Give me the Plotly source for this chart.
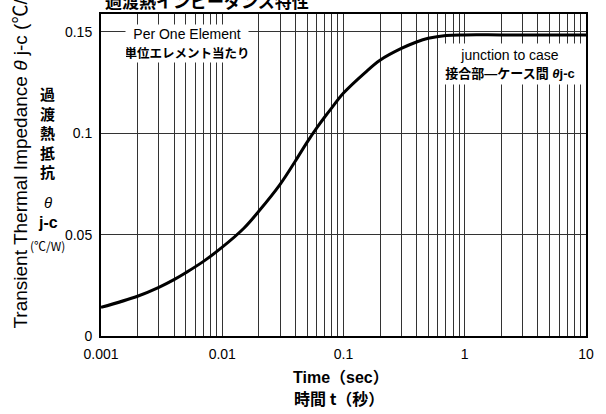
import plotly.graph_objects as go

# ---- data ----
time_s = [0.001, 0.002, 0.003, 0.004, 0.005, 0.007, 0.01, 0.015, 0.02, 0.03,
          0.04, 0.05, 0.06, 0.07, 0.08, 0.1, 0.15, 0.2, 0.3, 0.4, 0.5, 0.7,
          1, 2, 5, 10]
theta_jc = [0.0141, 0.0196, 0.0240, 0.0278, 0.0312, 0.0368, 0.0438, 0.0530,
            0.0615, 0.0748, 0.0862, 0.0955, 0.1025, 0.1080, 0.1125, 0.1198,
            0.1298, 0.1360, 0.1418, 0.1450, 0.1468, 0.1482, 0.1485, 0.1485,
            0.1485, 0.1485]

x_decades = [0.001, 0.01, 0.1, 1, 10]
x_decade_labels = ["0.001", "0.01", "0.1", "1", "10"]
y_ticks = [0, 0.05, 0.1, 0.15]
y_tick_labels = ["0", "0.05", "0.1", "0.15"]

title_text = "過渡熱インピーダンス特性"
y_title_en = "Transient Thermal Impedance <i>θ</i> j-c (℃/W)"
y_title_jp = "過<br>渡<br>熱<br>抵<br>抗"
x_title_en = "<b>Time（sec）</b>"
x_title_jp = "<b>時間 t（秒）</b>"
note1 = "Per One Element<br><b><span style='font-size:12.5px'>単位エレメント当たり</span></b>"
note2 = "junction to case<br><b><span style='font-size:13px'>接合部―ケース間 <i>θ</i>j-c</span></b>"

# all gridline positions on log axis (1..9 per decade)
x_tickvals, x_ticktext = [], []
for d, lab in zip(x_decades[:-1], x_decade_labels[:-1]):
    for k in range(1, 10):
        x_tickvals.append(d * k)
        x_ticktext.append(lab if k == 1 else "")
x_tickvals.append(x_decades[-1])
x_ticktext.append(x_decade_labels[-1])

# ---- layout geometry ----
FW, FH = 606, 414
L, R, T, B = 101, 20, 12, 78
W, H = FW - L - R, FH - T - B
BOTTOM = FH - B


def px(x):
    return (x - L) / W


def py(y):
    return (BOTTOM - y) / H


FONT = "Liberation Sans, Arial, Noto Sans CJK JP"
JFONT = "Noto Sans CJK JP, Liberation Sans"

fig = go.Figure()
fig.add_trace(go.Scatter(
    x=time_s, y=theta_jc, mode="lines",
    line=dict(color="black", width=3, shape="spline", smoothing=1.0),
    showlegend=False, hoverinfo="skip",
))

grid_col = "#333333"
fig.update_layout(
    width=FW, height=FH,
    margin=dict(l=L, r=R, t=T, b=B),
    paper_bgcolor="white", plot_bgcolor="white",
    font=dict(family=FONT, size=14, color="black"),
    xaxis=dict(
        type="log", range=[-3, 1],
        tickmode="array", tickvals=x_tickvals, ticktext=x_ticktext,
        showgrid=True, gridcolor=grid_col, gridwidth=1,
        showline=True, linecolor="black", linewidth=2, mirror=True,
        ticks="", ticklabelstandoff=4, zeroline=False,
        tickfont=dict(family=FONT, size=14, color="black"),
    ),
    yaxis=dict(
        range=[0, 0.1588],
        tickmode="array", tickvals=y_ticks, ticktext=y_tick_labels,
        showgrid=True, gridcolor=grid_col, gridwidth=1,
        showline=True, linecolor="black", linewidth=2, mirror=True,
        ticks="", ticklabelstandoff=4, zeroline=False,
        tickfont=dict(family=FONT, size=14, color="black"),
    ),
)

ann = []
# title (cut at top edge)
ann.append(dict(text="<b>" + title_text + "</b>", x=px(103), y=py(-2),
                xanchor="left", yanchor="middle",
                font=dict(family=JFONT, size=17, color="black")))
# rotated english y title
ann.append(dict(text=y_title_en, x=px(21), y=py(331), textangle=-90,
                xanchor="center", yanchor="bottom",
                font=dict(family=FONT, size=19, color="black")))
# stacked japanese y title
ann.append(dict(text="<b>" + y_title_jp + "</b>", x=px(47.5), y=py(131),
                xanchor="center", yanchor="middle",
                font=dict(family=JFONT, size=15, color="black")))
ann.append(dict(text="<i>θ</i>", x=px(48), y=py(202), xanchor="center", yanchor="middle",
                font=dict(family=FONT, size=15, color="black")))
ann.append(dict(text="<b>j-c</b>", x=px(48), y=py(222), xanchor="center", yanchor="middle",
                font=dict(family=FONT, size=16, color="black")))
ann.append(dict(text="(℃/W)", x=px(47), y=py(245), xanchor="center", yanchor="middle",
                font=dict(family="Liberation Sans Narrow, " + JFONT, size=12, color="black")))
# x titles
ann.append(dict(text=x_title_en, x=px(341), y=py(378), xanchor="center", yanchor="middle",
                font=dict(family=FONT + ", " + JFONT, size=16, color="black")))
ann.append(dict(text=x_title_jp, x=px(339), y=py(398), xanchor="center", yanchor="middle",
                font=dict(family=JFONT, size=16, color="black")))
# note boxes
ann.append(dict(text=note1, x=px(187), y=py(41.5), xanchor="center", yanchor="middle",
                width=122, height=37, bgcolor="white", borderpad=0, align="center",
                font=dict(family=FONT + ", " + JFONT, size=14, color="black")))
ann.append(dict(text=note2, x=px(510), y=py(62), xanchor="center", yanchor="middle",
                width=142, height=40, bgcolor="white", borderpad=0, align="center",
                font=dict(family=FONT + ", " + JFONT, size=14, color="black")))

for a in ann:
    a.setdefault("xref", "paper")
    a.setdefault("yref", "paper")
    a.setdefault("showarrow", False)
fig.update_layout(annotations=ann)

fig.write_html("out.html")
